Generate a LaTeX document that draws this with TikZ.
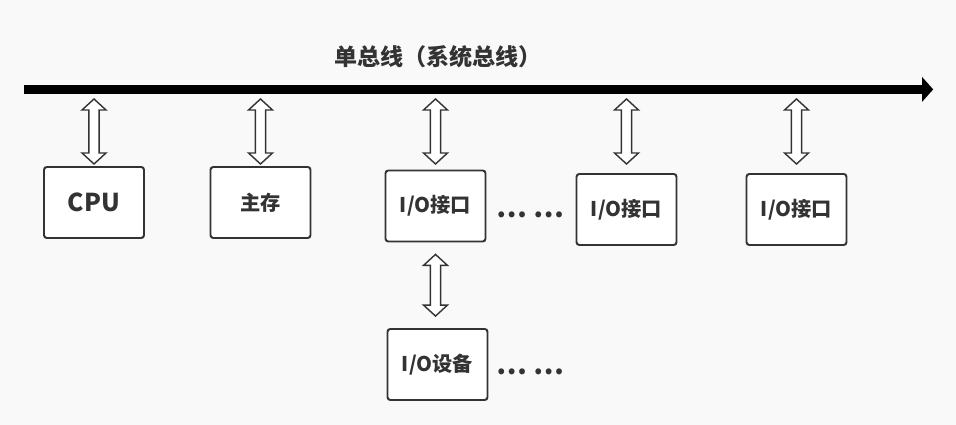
\documentclass[tikz,border=0pt]{standalone}
\usepackage{fontspec}
\newfontfamily\cjk{Noto Sans CJK SC}
\usetikzlibrary{arrows.meta,calc}

\definecolor{bg}{HTML}{F9F9F9}
\definecolor{ink}{HTML}{333333}

\tikzset{
	unit/.style={draw=ink, line width=1.4pt, fill=white, rounded corners=2pt,
		minimum width=2.5cm, minimum height=1.775cm, text=ink,
		font=\cjk\bfseries\fontsize{14.4}{16}\selectfont},
	gaps/.style={text=ink, anchor=base, font=\cjk\bfseries\fontsize{19.5}{20}\selectfont},
	hollowarrow/.style={draw=ink, line width=1pt, fill=white, line join=miter,
		to path={let \p1=(\tikztostart), \p2=(\tikztotarget) in
			-- (\x1+8.5pt,\y1+7.8pt) -- (\x1+3.6pt,\y1+7.8pt) -- (\x1+3.6pt,\y2-7.8pt)
			-- (\x1+8.5pt,\y2-7.8pt) -- (\x1,\y2) -- (\x1-8.5pt,\y2-7.8pt)
			-- (\x1-3.6pt,\y2-7.8pt) -- (\x1-3.6pt,\y1+7.8pt) -- (\x1-8.5pt,\y1+7.8pt) -- cycle}}
}

\begin{document}
\begin{tikzpicture}
		\fill[bg] (0, 0) rectangle (23.9, 10.625); % Фон
		
		\coordinate (busl) at (0.6, 8.39);
		\coordinate (busr) at (23.33, 8.39);
		\coordinate (reach) at (0, 8.15);
		\coordinate (foot) at (0, 6.525);
		
		\draw[line width=6.8pt, -{Triangle[length=7.8pt, width=17pt]}] (busl) -- (busr); % Шина
		\node[text=ink, font=\cjk\bfseries\fontsize{16.4}{18}\selectfont] (title) at (10.95, 9.2) {单总线（系统总线）};
		
		\node[unit] (cpu) at (2.35, 5.5625) {\fontsize{17.5}{20}\selectfont CPU};
		\node[unit] (mem) at (6.5125, 5.5625) {主存};
		\node[unit] (io1) at (10.8875, 5.475) {I/O接口};
		\node[unit] (io2) at (15.6625, 5.3875) {I/O接口};
		\node[unit] (io3) at (19.9125, 5.3875) {I/O接口};
		\node[unit] (dev) at (10.9375, 1.5125) {I/O设备};
		
		\node[gaps] (gap1) at (13.26, 5.19) {… …};
		\node[gaps] (gap2) at (13.26, 1.27) {… …};
		
		\draw[hollowarrow] (cpu |- foot) to (cpu |- reach);
		\draw[hollowarrow] (mem |- foot) to (mem |- reach);
		\draw[hollowarrow] (io1 |- foot) to (io1 |- reach);
		\draw[hollowarrow] (io2 |- foot) to (io2 |- reach);
		\draw[hollowarrow] (io3 |- foot) to (io3 |- reach);
		\draw[hollowarrow] ([yshift=8.5pt]io1.south |- dev.north) to ([yshift=-8.5pt]io1.south);
\end{tikzpicture}
\end{document}
